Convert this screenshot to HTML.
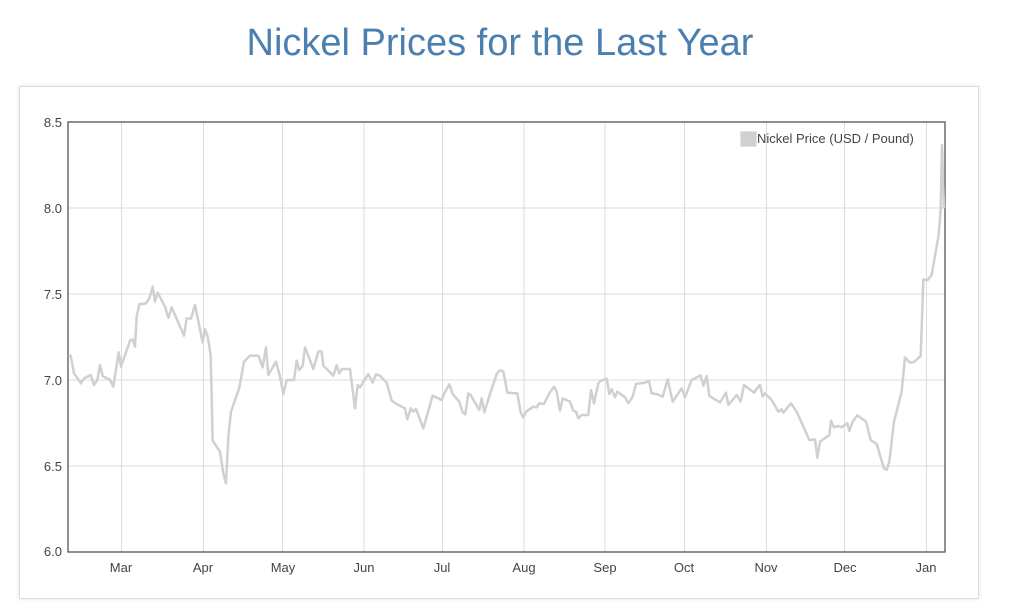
<!DOCTYPE html>
<html><head><style>
body{margin:0;background:#fff;width:1024px;height:613px;overflow:hidden;font-family:"Liberation Sans",sans-serif;}
.title{position:absolute;left:0;width:1000px;top:22px;text-align:center;font-size:38px;color:#4a7fb0;}
.card{position:absolute;left:19px;top:86px;width:958px;height:511px;border:1px solid #ddd;box-shadow:0 0 4px rgba(0,0,0,0.12);background:#fff;}
svg{position:absolute;left:0;top:0;}
</style></head><body>
<div class="title">Nickel Prices for the Last Year</div>
<div class="card"></div>
<svg width="1024" height="613" font-family="Liberation Sans, sans-serif">
<g stroke="#dcdcdc" stroke-width="1">
<line x1="68" y1="208" x2="945" y2="208"/><line x1="68" y1="294" x2="945" y2="294"/>
<line x1="68" y1="380" x2="945" y2="380"/><line x1="68" y1="466" x2="945" y2="466"/>
<line x1="121.5" y1="122" x2="121.5" y2="552"/><line x1="203.5" y1="122" x2="203.5" y2="552"/>
<line x1="282.5" y1="122" x2="282.5" y2="552"/><line x1="364" y1="122" x2="364" y2="552"/>
<line x1="442.5" y1="122" x2="442.5" y2="552"/><line x1="524" y1="122" x2="524" y2="552"/>
<line x1="605" y1="122" x2="605" y2="552"/><line x1="684.5" y1="122" x2="684.5" y2="552"/>
<line x1="766.5" y1="122" x2="766.5" y2="552"/><line x1="844.5" y1="122" x2="844.5" y2="552"/>
<line x1="926.5" y1="122" x2="926.5" y2="552"/>
</g>
<rect x="68" y="122" width="877" height="430" fill="none" stroke="#555" stroke-width="1.3"/>
<g font-size="13" fill="#444" text-anchor="end">
<text x="62" y="127">8.5</text><text x="62" y="213">8.0</text><text x="62" y="299">7.5</text>
<text x="62" y="385">7.0</text><text x="62" y="471">6.5</text><text x="62" y="556">6.0</text>
</g>
<g font-size="13" fill="#444" text-anchor="middle">
<text x="121" y="572">Mar</text><text x="203" y="572">Apr</text><text x="283" y="572">May</text>
<text x="364" y="572">Jun</text><text x="442" y="572">Jul</text><text x="524" y="572">Aug</text>
<text x="605" y="572">Sep</text><text x="684" y="572">Oct</text><text x="766" y="572">Nov</text>
<text x="845" y="572">Dec</text><text x="926" y="572">Jan</text>
</g>
<g transform="translate(20,90) scale(0.33333)">
<polyline fill="none" stroke="#d0d0d0" stroke-width="7.5" stroke-linejoin="round" points="145,797 152,797 162,850 183,880 192,865 212,855 222,885 232,870 240,825 248,858 270,870 280,890 296,787 303,830 330,752 338,748 345,770 350,680 358,643 378,640 388,625 398,590 405,635 413,608 435,650 445,683 455,652 492,737 500,685 513,686 525,645 548,757 555,718 563,740 572,795 578,1052 600,1085 610,1150 618,1180 625,1040 633,965 658,893 672,815 690,797 715,797 728,832 738,772 745,855 768,815 780,860 790,912 800,870 822,870 830,812 838,840 848,828 855,772 880,837 895,785 905,785 910,827 940,857 950,826 958,850 966,837 990,837 1005,955 1013,885 1020,892 1045,852 1058,878 1068,853 1080,857 1100,878 1115,932 1130,942 1155,955 1162,988 1172,955 1180,965 1188,957 1210,1015 1238,917 1265,930 1273,910 1288,883 1298,912 1318,935 1328,967 1336,973 1345,910 1352,915 1378,960 1385,925 1393,967 1410,912 1430,852 1440,840"/>
</g>
<g transform="translate(500,90) scale(0.33333)">
<polyline fill="none" stroke="#d0d0d0" stroke-width="7.5" stroke-linejoin="round" points="0,840 10,845 22,908 52,910 62,968 70,982 78,965 100,950 110,952 118,940 132,942 148,910 162,890 170,905 180,962 188,925 210,935 220,962 228,965 235,985 245,975 265,975 273,900 282,940 295,880 302,872 320,866 328,912 335,898 345,922 352,905 375,922 385,940 398,920 408,882 435,878 447,873 455,910 470,912 488,920 503,868 518,935 545,895 555,922 575,870 602,856 610,887 620,858 628,918 640,925 660,937 678,908 685,945 710,915 722,935 732,885 762,908 780,884 788,920 795,910 815,930 835,965 845,958 850,968 873,940 890,965 928,1050 945,1048 952,1103 960,1055 988,1035 993,992 1002,1012 1015,1008 1025,1012 1042,1000 1048,1023 1058,995 1072,976 1098,995 1112,1050 1130,1062 1152,1135 1160,1140 1168,1115 1182,995 1205,905 1215,802 1230,818 1242,816 1262,798 1270,568 1283,570 1295,555 1316,435 1322,358 1326,165 1332,355"/>
</g>
<rect x="740.5" y="131.5" width="16" height="15" fill="#d0d0d0" stroke="#e4e4e4"/>
<text x="757" y="143" font-size="13" fill="#444">Nickel Price (USD / Pound)</text>
</svg>
</body></html>
